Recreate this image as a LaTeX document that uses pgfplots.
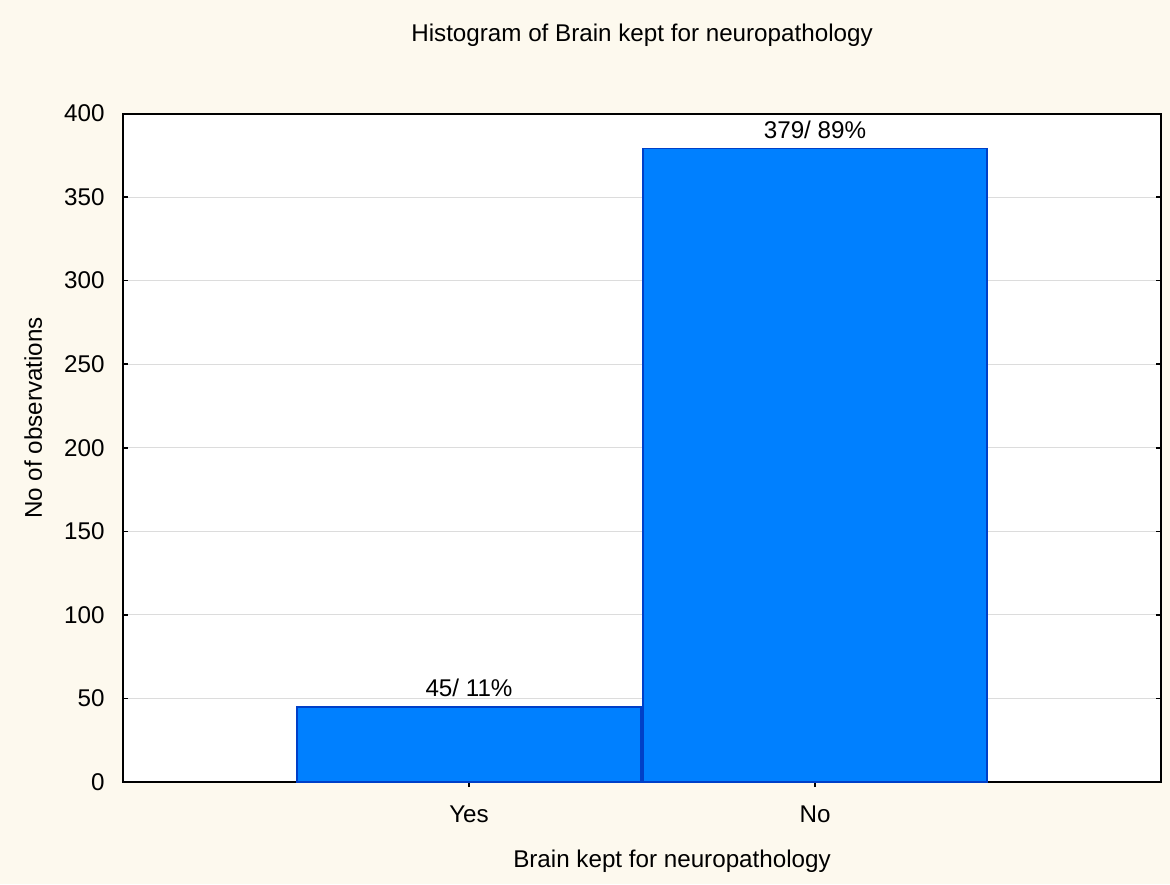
\documentclass[border=0pt]{standalone}
\usepackage{pgfplots}
\pgfplotsset{compat=1.18}
\usepackage{fontspec}
\setmainfont{Liberation Sans}
\definecolor{bg}{RGB}{253,249,238}
\definecolor{barfill}{RGB}{0,128,255}
\definecolor{barline}{RGB}{0,64,200}
\definecolor{gridc}{RGB}{220,220,220}
\begin{document}
\fontsize{12.1}{14.5}\selectfont
\begin{tikzpicture}
\fill[bg] (-61.5pt,-51pt) rectangle (523.5pt,391pt);
\begin{axis}[
  at={(0,0)}, anchor=south west,
  width=519pt, height=334.25pt, scale only axis,
  xmin=0, xmax=3, ymin=0, ymax=400,
  axis background/.style={fill=white},
  axis line style={line width=1pt, black},
  xtick={1,2}, xticklabels={Yes,No},
  ytick={0,50,...,400},
  tick align=inside,
  xtick pos=bottom, ytick pos=both,
  major tick length=2.5pt,
  tick style={line width=0.8pt, black},
  ymajorgrids, grid style={gridc, line width=0.5pt},
  xticklabel style={anchor=base, inner sep=0pt, yshift=-17.5pt},
  yticklabel style={anchor=east, inner sep=0pt, xshift=-9pt},
  /pgf/number format/assume math mode=true,
  ybar, bar width=0.995, bar shift=0pt,
  clip=false,
]
\addplot[fill=barfill, draw=barline, line width=0.75pt] coordinates {(1,45) (2,379)};
\node[anchor=base, yshift=5pt] at (axis cs:1,45) {45/ 11\%};
\node[anchor=base, yshift=5pt] at (axis cs:2,379) {379/ 89\%};
\end{axis}
\node[anchor=base] at (259.5pt,370pt) {Histogram of Brain kept for neuropathology};
\node[anchor=base] at (274.5pt,-42.5pt) {Brain kept for neuropathology};
\node[anchor=base, rotate=90] at (-40.5pt,182pt) {No of observations};
\pgfresetboundingbox
\useasboundingbox (-61.5pt,-51pt) rectangle (523.5pt,391pt);
\end{tikzpicture}
\end{document}
